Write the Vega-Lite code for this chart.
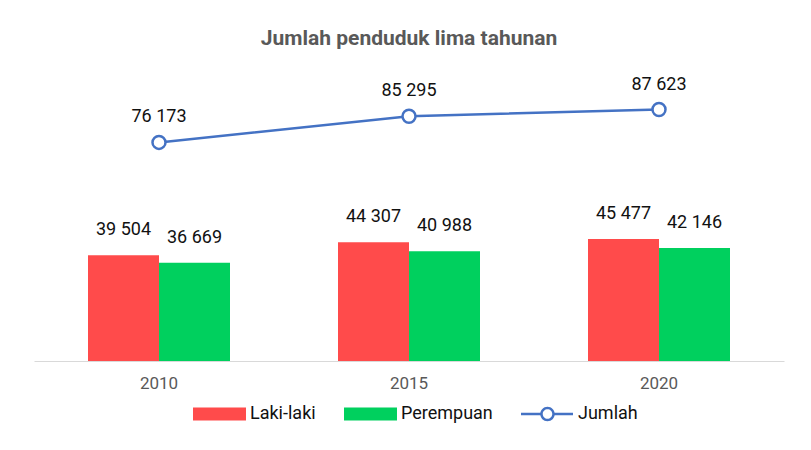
{
  "$schema": "https://vega.github.io/schema/vega-lite/v6.json",
  "autosize": "none",
  "width": 750,
  "height": 301,
  "padding": {"left": 34, "top": 60, "right": 27, "bottom": 89},
  "background": "#ffffff",
  "title": {
    "text": "Jumlah penduduk lima tahunan",
    "fontSize": 21,
    "fontWeight": "bold",
    "color": "#595959",
    "font": "Roboto",
    "anchor": "middle",
    "frame": "group",
    "baseline": "alphabetic",
    "offset": -6
  },
  "config": {
    "view": {"stroke": null},
    "font": "Roboto",
    "locale": {"number": {"decimal": ",", "thousands": " ", "grouping": [3], "currency": ["", ""]}}
  },
  "data": {
    "values": [
      {"tahun": "2010", "series": "Laki-laki", "nilai": 39504},
      {"tahun": "2010", "series": "Perempuan", "nilai": 36669},
      {"tahun": "2010", "series": "Jumlah", "nilai": 76173},
      {"tahun": "2015", "series": "Laki-laki", "nilai": 44307},
      {"tahun": "2015", "series": "Perempuan", "nilai": 40988},
      {"tahun": "2015", "series": "Jumlah", "nilai": 85295},
      {"tahun": "2020", "series": "Laki-laki", "nilai": 45477},
      {"tahun": "2020", "series": "Perempuan", "nilai": 42146},
      {"tahun": "2020", "series": "Jumlah", "nilai": 87623}
    ]
  },
  "encoding": {
    "x": {
      "field": "tahun",
      "type": "nominal",
      "scale": {"paddingInner": 0.432, "paddingOuter": 0.216},
      "axis": {
        "title": null,
        "labelAngle": 0,
        "labelFontSize": 17,
        "labelColor": "#595959",
        "labelPadding": 14,
        "domainColor": "#d9d9d9",
        "domainWidth": 1.2,
        "ticks": false,
        "grid": false
      }
    }
  },
  "layer": [
    {
      "transform": [{"filter": "datum.series !== 'Jumlah'"}],
      "encoding": {
        "y": {
          "field": "nilai",
          "type": "quantitative",
          "scale": {"domain": [0, 112313], "nice": false},
          "axis": null
        },
        "xOffset": {"field": "series", "type": "nominal", "sort": ["Laki-laki", "Perempuan"]}
      },
      "layer": [
        {
          "mark": {"type": "bar"},
          "encoding": {
            "color": {
              "field": "series",
              "type": "nominal",
              "scale": {
                "domain": ["Laki-laki", "Perempuan", "Jumlah"],
                "range": ["#FF4B4B", "#00D05E", "#4472C4"]
              },
              "legend": {
                "title": null,
                "orient": "none",
                "direction": "horizontal",
                "legendX": 159,
                "legendY": 345,
                "padding": 0,
                "symbolSize": 324,
                "symbolOffset": 17.5,
                "labelFontSize": 18,
                "labelColor": "#111111",
                "labelFont": "Roboto",
                "labelOffset": 21.5,
                "columnPadding": 28,
                "encode": {
                  "symbols": {
                    "update": {
                      "shape": {"signal": "datum.value === 'Jumlah' ? 'M-2.944,-0.139H-0.75V0.139H-2.944ZM0.75,-0.139H2.833V0.139H0.75ZM-0.806,0A0.806,0.806 0 1,1 0.806,0A0.806,0.806 0 1,1 -0.806,0ZM-0.528,0A0.528,0.528 0 1,0 0.528,0A0.528,0.528 0 1,0 -0.528,0Z' : 'M-2.944,-0.722H2.944V0.722H-2.944Z'"},
                      "fill": {"signal": "scale('color', datum.value)"},
                      "stroke": {"value": "transparent"},
                      "strokeWidth": {"value": 0},
                      "opacity": {"value": 1},
                      "fillOpacity": {"value": 1}
                    }
                  }
                }
              }
            }
          }
        },
        {
          "mark": {"type": "text", "baseline": "alphabetic", "dy": -20, "fontSize": 18, "color": "#111111"},
          "encoding": {
            "text": {"field": "nilai", "type": "quantitative", "format": ","}
          }
        }
      ]
    },
    {
      "transform": [{"filter": "datum.series === 'Jumlah'"}],
      "encoding": {
        "y": {
          "field": "nilai",
          "type": "quantitative",
          "scale": {"domain": [0, 104878], "nice": false},
          "axis": null
        }
      },
      "layer": [
        {
          "mark": {
            "type": "line",
            "strokeWidth": 2.5,
            "point": {"filled": false, "fill": "#ffffff", "size": 169, "strokeWidth": 2.5, "opacity": 1}
          },
          "encoding": {
            "color": {"field": "series", "type": "nominal"}
          }
        },
        {
          "mark": {"type": "text", "baseline": "alphabetic", "dy": -20, "fontSize": 18, "color": "#111111"},
          "encoding": {
            "text": {"field": "nilai", "type": "quantitative", "format": ","}
          }
        }
      ]
    }
  ],
  "resolve": {"scale": {"y": "independent"}}
}
